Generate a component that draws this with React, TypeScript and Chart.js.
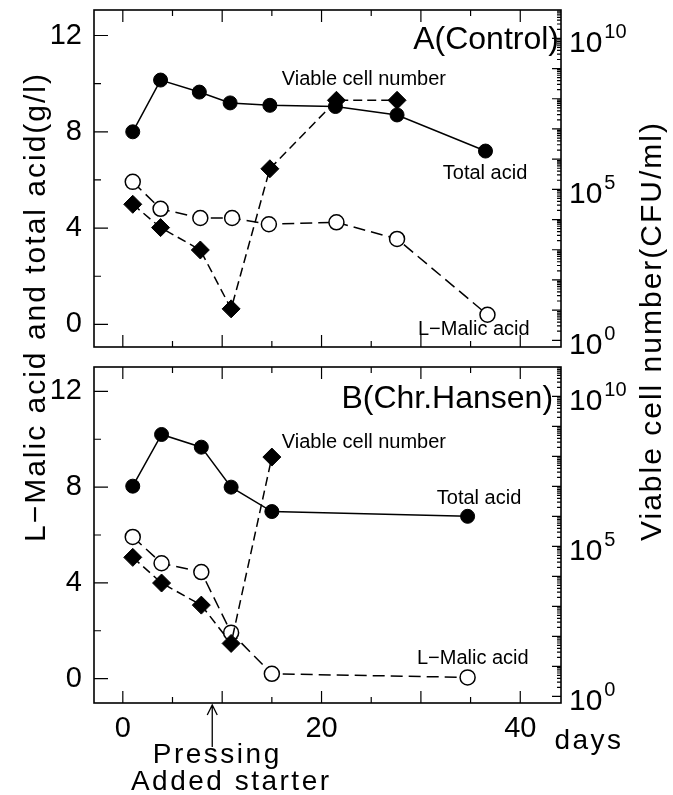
import React, { useEffect, useRef } from "react";
import { Chart, registerables } from "chart.js";

Chart.register(...registerables);

const FONT = '"Liberation Sans", Arial, sans-serif';

// ---------------- Data (panel A: Control) ----------------
const daysA = [1, 3.8, 7.7, 10.8, 14.8, 21.4, 27.6, 36.5];
const totalAcidA = [8.0, 10.15, 9.65, 9.2, 9.1, 9.05, 8.7, 7.2];
const malicDaysA = [1, 3.8, 7.8, 11, 14.7, 21.5, 27.6, 36.7];
const malicAcidA = [5.92, 4.8, 4.42, 4.42, 4.16, 4.24, 3.55, 0.4];
const viableDaysA = [1, 3.8, 7.8, 10.9, 14.8, 21.5, 27.6];
const viableA = [3.2e4, 5.4e3, 9.8e2, 1.1e1, 4.8e5, 8.9e7, 8.9e7];

// ---------------- Data (panel B: Chr.Hansen) ----------------
const daysB = [1, 3.9, 7.9, 10.9, 15, 34.7];
const totalAcidB = [8.04, 10.2, 9.67, 8.0, 6.98, 6.78];
const malicAcidB = [5.92, 4.82, 4.45, 1.92, 0.2, 0.05];
const viableDaysB = [1, 3.9, 7.9, 10.9, 15];
const viableB = [4.3e4, 6.0e3, 1.1e3, 5.8e1, 9.5e7];

// ---------------- Axis ticks ----------------
const xTickLabels = [0, 20, 40];
const xTickMarks = [0, 5, 10, 15, 20, 25, 30, 35, 40];
const leftTickLabels = [0, 4, 8, 12];
const leftTickMarks = [0, 2, 4, 6, 8, 10, 12];
const logDecadeLabels = [0, 5, 10];
const logDecades = [0, 1, 2, 3, 4, 5, 6, 7, 8, 9, 10];

const X_MIN = -2.9;
const X_MAX = 44.1;

const pts = (xs: number[], ys: number[]) => xs.map((x, i) => ({ x, y: ys[i] }));

const zeroPad = (s: any) => {
  s.paddingTop = 0;
  s.paddingBottom = 0;
  s.paddingLeft = 0;
  s.paddingRight = 0;
};

const framePlugin = {
  id: "frame",
  afterDraw(chart: any, _args: any, opts: any) {
    const { ctx, chartArea: a, scales } = chart;
    const xs = scales.x, ys = scales.y, y2 = scales.y2;
    ctx.save();
    ctx.strokeStyle = "#000";
    ctx.fillStyle = "#000";
    ctx.lineWidth = 1.6;
    ctx.strokeRect(a.left, a.top, a.right - a.left, a.bottom - a.top);

    ctx.lineWidth = 1.2;
    ctx.beginPath();
    for (const v of xTickMarks) {
      const px = xs.getPixelForValue(v);
      const len = v % 10 === 0 ? 12 : 6;
      ctx.moveTo(px, a.bottom);
      ctx.lineTo(px, a.bottom - len);
      ctx.moveTo(px, a.top);
      ctx.lineTo(px, a.top + len);
    }
    for (const v of leftTickMarks) {
      const py = ys.getPixelForValue(v);
      const len = v % 4 === 0 ? 14 : 7;
      ctx.moveTo(a.left, py);
      ctx.lineTo(a.left + len, py);
    }
    const lmin = y2.min, lmax = y2.max;
    for (const d of logDecades) {
      for (let k = 1; k <= 9; k++) {
        const v = k * Math.pow(10, d);
        if (v < lmin || v > lmax) continue;
        const py = y2.getPixelForValue(v);
        const len = k === 1 ? 9 : 4;
        ctx.moveTo(a.right, py);
        ctx.lineTo(a.right - len, py);
      }
    }
    ctx.stroke();

    // right-axis labels with superscripts
    for (const d of logDecadeLabels) {
      const py = y2.getPixelForValue(Math.pow(10, d));
      ctx.font = `30px ${FONT}`;
      ctx.textAlign = "left";
      ctx.textBaseline = "middle";
      const x0 = a.right + 8;
      ctx.fillText("10", x0, py + 5);
      const w = ctx.measureText("10").width;
      ctx.font = `20px ${FONT}`;
      ctx.fillText(String(d), x0 + w + 2, py - 6);
    }

    // annotations
    for (const l of opts.labels || []) {
      ctx.font = `${l.size}px ${FONT}`;
      ctx.textAlign = l.align;
      ctx.textBaseline = "alphabetic";
      ctx.fillText(l.text, xs.getPixelForValue(l.x), ys.getPixelForValue(l.y));
    }

    if (opts.arrow) {
      const ax = xs.getPixelForValue(opts.arrow.x);
      const tip = a.bottom + 2;
      ctx.lineWidth = 1.3;
      ctx.beginPath();
      ctx.moveTo(ax, tip);
      ctx.lineTo(ax, tip + 42);
      ctx.moveTo(ax - 5, tip + 10);
      ctx.lineTo(ax, tip);
      ctx.lineTo(ax + 5, tip + 10);
      ctx.stroke();
      ctx.textAlign = "center";
      ctx.textBaseline = "alphabetic";
      ctx.font = `28px ${FONT}`;
      (ctx as any).letterSpacing = "2.5px";
      ctx.fillText("Pressing", ax + 5, a.bottom + 60);
      ctx.fillText("Added starter", ax + 19, a.bottom + 87);
      ctx.fillText("days", a.right + 28, a.bottom + 46);
      (ctx as any).letterSpacing = "0px";
    }
    ctx.restore();
  },
};

function makeConfig(p: any): any {
  return {
    type: "line",
    data: {
      datasets: [
        {
          label: "Viable cell number",
          data: pts(p.viableDays, p.viable),
          yAxisID: "y2",
          borderColor: "#000",
          borderWidth: 1.5,
          borderDash: [9, 5],
          pointStyle: "rectRot",
          pointRadius: 9,
          pointBackgroundColor: "#000",
          pointBorderColor: "#000",
          pointBorderWidth: 1,
          fill: false,
          tension: 0,
        },
        {
          label: "Total acid",
          data: pts(p.days, p.total),
          yAxisID: "y",
          borderColor: "#000",
          borderWidth: 1.5,
          pointStyle: "circle",
          pointRadius: 7,
          pointBackgroundColor: "#000",
          pointBorderColor: "#000",
          pointBorderWidth: 1,
          fill: false,
          tension: 0,
        },
        {
          label: "L-Malic acid",
          data: pts(p.malicDays, p.malic),
          yAxisID: "y",
          borderColor: "#000",
          borderWidth: 1.5,
          borderDash: [12, 6],
          pointStyle: "circle",
          pointRadius: 7.5,
          pointBackgroundColor: "#fff",
          pointBorderColor: "#000",
          pointBorderWidth: 1.5,
          fill: false,
          tension: 0,
        },
      ],
    },
    options: {
      animation: false,
      responsive: false,
      events: [],
      layout: { padding: { left: 0, right: 0, top: p.padTop, bottom: 0 } },
      plugins: {
        legend: { display: false },
        tooltip: { enabled: false },
        frame: { labels: p.labels, arrow: p.arrow },
      },
      scales: {
        x: {
          type: "linear",
          position: "bottom",
          min: X_MIN,
          max: X_MAX,
          grid: { display: false, drawTicks: false },
          border: { display: false },
          afterBuildTicks: (s: any) => {
            s.ticks = xTickLabels.map((v) => ({ value: v }));
          },
          afterFit: (s: any) => {
            s.height = p.xHeight;
            zeroPad(s);
          },
          ticks: {
            display: p.showX,
            autoSkip: false,
            maxRotation: 0,
            padding: 9,
            color: "#000",
            font: { family: FONT, size: 29 },
          },
        },
        y: {
          type: "linear",
          position: "left",
          min: p.yMin,
          max: p.yMax,
          grid: { display: false, drawTicks: false },
          border: { display: false },
          afterBuildTicks: (s: any) => {
            s.ticks = leftTickLabels.map((v) => ({ value: v }));
          },
          afterFit: (s: any) => {
            s.width = 94;
            zeroPad(s);
          },
          ticks: {
            autoSkip: false,
            padding: 12,
            color: "#000",
            font: { family: FONT, size: 29 },
          },
        },
        y2: {
          type: "logarithmic",
          position: "right",
          min: p.logMin,
          max: p.logMax,
          grid: { display: false, drawTicks: false },
          border: { display: false },
          afterFit: (s: any) => {
            s.width = 112;
            zeroPad(s);
          },
          ticks: { display: false },
        },
      },
    },
    plugins: [framePlugin],
  };
}

const panelA = {
  days: daysA,
  total: totalAcidA,
  malicDays: malicDaysA,
  malic: malicAcidA,
  viableDays: viableDaysA,
  viable: viableA,
  yMin: -0.94,
  yMax: 13.06,
  logMin: Math.pow(10, -0.2),
  logMax: Math.pow(10, 10.94),
  padTop: 10,
  xHeight: 4,
  showX: false,
  labels: [
    { text: "A(Control)", x: 43.9, y: 11.43, align: "right", size: 32 },
    { text: "Viable cell number", x: 16.0, y: 9.96, align: "left", size: 20 },
    { text: "Total acid", x: 32.2, y: 6.04, align: "left", size: 20 },
    { text: "L−Malic acid", x: 29.7, y: -0.45, align: "left", size: 20 },
  ],
  arrow: null,
};

const panelB = {
  days: daysB,
  total: totalAcidB,
  malicDays: daysB,
  malic: malicAcidB,
  viableDays: viableDaysB,
  viable: viableB,
  yMin: -1.02,
  yMax: 13.02,
  logMin: Math.pow(10, -0.2),
  logMax: Math.pow(10, 10.98),
  padTop: 3,
  xHeight: 92,
  showX: true,
  labels: [
    { text: "B(Chr.Hansen)", x: 43.3, y: 11.3, align: "right", size: 32 },
    { text: "Viable cell number", x: 16.0, y: 9.63, align: "left", size: 20 },
    { text: "Total acid", x: 31.6, y: 7.31, align: "left", size: 20 },
    { text: "L−Malic acid", x: 29.6, y: 0.61, align: "left", size: 20 },
  ],
  arrow: { x: 9 },
};

function Panel({ cfg, top, height }: { cfg: any; top: number; height: number }) {
  const ref = useRef<HTMLCanvasElement | null>(null);
  useEffect(() => {
    if (!ref.current) return;
    const chart = new Chart(ref.current, makeConfig(cfg));
    return () => chart.destroy();
  }, [cfg]);
  return (
    <canvas
      ref={ref}
      width={673}
      height={height}
      style={{ position: "absolute", left: 0, top, width: 673, height }}
    />
  );
}

const titleStyle = (cx: number, cy: number): React.CSSProperties => ({
  position: "absolute",
  left: cx - 300,
  top: cy - 20,
  width: 600,
  height: 40,
  lineHeight: "40px",
  textAlign: "center",
  transform: "rotate(-90deg)",
  font: `30px ${FONT}`,
  letterSpacing: "2px",
  whiteSpace: "nowrap",
  color: "#000",
});

export default function App() {
  return (
    <div
      style={{
        position: "absolute",
        left: 0,
        top: 0,
        width: 673,
        height: 795,
        background: "#fff",
        overflow: "hidden",
      }}
    >
      <Panel cfg={panelA} top={0} height={357} />
      <Panel cfg={panelB} top={357} height={438} />
      <div style={titleStyle(38, 307)}>L−Malic acid and total acid(g/l)</div>
      <div style={titleStyle(654, 331)}>Viable cell number(CFU/ml)</div>
    </div>
  );
}
